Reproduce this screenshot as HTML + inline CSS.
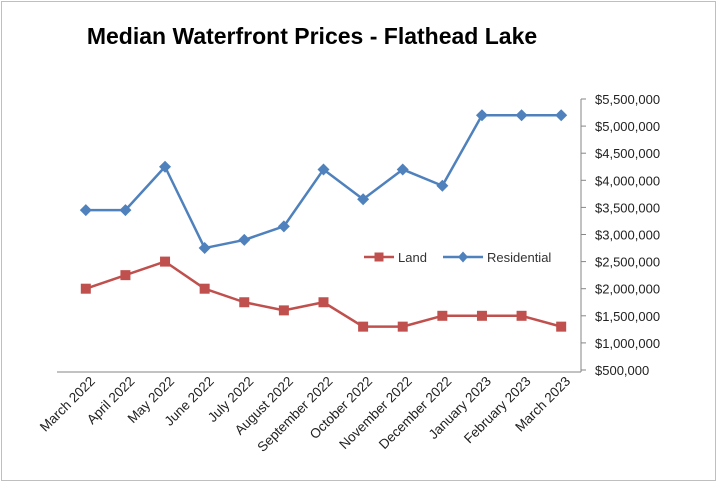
<!DOCTYPE html>
<html><head><meta charset="utf-8"><style>
body{margin:0;background:#fff;}
svg{display:block;font-family:"Liberation Sans",sans-serif;}
</style></head><body>
<svg id="chart" width="718" height="484">
<rect x="1.5" y="1.5" width="714" height="479" fill="#fff" stroke="#bfbfbf"/>
<text x="312" y="44" text-anchor="middle" font-size="23" font-weight="bold" fill="#000">Median Waterfront Prices - Flathead Lake</text>
<g id="axes"></g><g id="series"></g>
<g>
<g>
<line x1="364" y1="257" x2="394" y2="257" stroke="#c0504d" stroke-width="2.5"/>
<rect x="374.5" y="252.5" width="9" height="9" fill="#c0504d"/>
<text x="398" y="262" font-size="13" fill="#333">Land</text></g>
<g>
<line x1="443" y1="257" x2="483" y2="257" stroke="#4f81bd" stroke-width="2.5"/>
<path d="M463 251.5 L468 257 L463 262.5 L458 257Z" fill="#4f81bd"/>
<text x="487" y="262" font-size="13" fill="#333">Residential</text></g>
</g>
</svg>
<script>
const categories=["March 2022","April 2022","May 2022","June 2022","July 2022","August 2022","September 2022","October 2022","November 2022","December 2022","January 2023","February 2023","March 2023"];
const landValues=[2000000,2250000,2500000,2000000,1750000,1600000,1750000,1300000,1300000,1500000,1500000,1500000,1300000];
const residentialValues=[3450000,3450000,4250000,2750000,2900000,3150000,4200000,3650000,4200000,3900000,5200000,5200000,5200000];
const yTicks=[500000,1000000,1500000,2000000,2500000,3000000,3500000,4000000,4500000,5000000,5500000];
const NS="http://www.w3.org/2000/svg";
const x0=66,x1=581,yTop=99,yBot=370,yMin=500000,yMax=5500000;
const step=(x1-x0)/categories.length;
function xs(i){return x0+step*(i+0.5);}
function ys(v){return yBot-(v-yMin)/(yMax-yMin)*(yBot-yTop);}
function mk(tag,attrs,parent){const e=document.createElementNS(NS,tag);for(const k in attrs)e.setAttribute(k,attrs[k]);parent.appendChild(e);return e;}
const axes=document.getElementById('axes'),ser=document.getElementById('series');
let el=mk('line',{x1:57,y1:yBot+2,x2:x1,y2:yBot+2,stroke:'#868686','stroke-width':1},axes);


el=mk('line',{x1:x1,y1:yTop,x2:x1,y2:yBot+2,stroke:'#868686','stroke-width':1},axes);


yTicks.forEach(v=>{const y=ys(v);
mk('line',{x1:x1,y1:y,x2:x1+5,y2:y,stroke:'#868686'},axes);
const t=mk('text',{x:x1+14,y:y+5,'font-size':13,fill:'#222'},axes);
t.textContent='$'+v.toLocaleString('en-US');

});
categories.forEach((c,i)=>{const x=xs(i)+10,y=yBot+12;
const t=mk('text',{x:x,y:y,'font-size':13.5,fill:'#222','text-anchor':'end',transform:`rotate(-45 ${x} ${y})`},axes);
t.textContent=c;

});
function line(vals,color,name,marker){
const g=mk('g',{},ser);


mk('polyline',{points:vals.map((v,i)=>xs(i)+','+ys(v)).join(' '),fill:'none',stroke:color,'stroke-width':2.5,'stroke-linejoin':'round'},g);
vals.forEach((v,i)=>{const x=xs(i),y=ys(v);let m;
if(marker==='sq')m=mk('rect',{x:x-5,y:y-5,width:10,height:10,fill:color},g);
else m=mk('path',{d:`M${x} ${y-6}L${x+6} ${y}L${x} ${y+6}L${x-6} ${y}Z`,fill:color},g);

});}
line(landValues,'#c0504d','land-series','sq');
line(residentialValues,'#4f81bd','residential-series','dia');
</script>
</body></html>
